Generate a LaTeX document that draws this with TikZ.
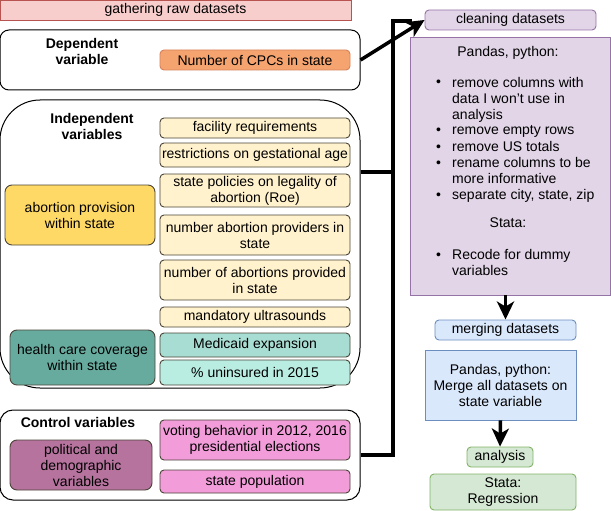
\documentclass[tikz,border=0pt]{standalone}
\usepackage{fontspec}
\setmainfont{Liberation Sans}
\usetikzlibrary{arrows.meta}
\newcommand{\mkbox}[7]{%
  \node[#6, minimum width={#4-#2}, minimum height={#5-#3}] (#1) at ({(#2+#4)/2},{(#3+#5)/2}) {#7};}
\definecolor{gatherfill}{HTML}{F8CECC}\definecolor{gatherdraw}{HTML}{B85450}
\definecolor{cpcfill}{HTML}{F5A46F}\definecolor{cpcdraw}{HTML}{D7825A}
\definecolor{yelfill}{HTML}{FFF2CC}\definecolor{darkdraw}{HTML}{4A4538}
\definecolor{golfill}{HTML}{FFD966}
\definecolor{tealfill}{HTML}{67AB9F}\definecolor{medfill}{HTML}{A8DDD3}\definecolor{unfill}{HTML}{B9EDE2}
\definecolor{polfill}{HTML}{B5739D}\definecolor{pinkfill}{HTML}{F29DDA}
\definecolor{purfill}{HTML}{E1D5E7}\definecolor{purdraw}{HTML}{9673A6}
\definecolor{bluefill}{HTML}{DAE8FC}\definecolor{bluedraw}{HTML}{6C8EBF}
\definecolor{grnfill}{HTML}{D5E8D4}\definecolor{grndraw}{HTML}{82B366}
\begin{document}
\begin{tikzpicture}[x=1pt,y=-1pt,
  font=\fontsize{14}{16}\selectfont,
  base/.style={draw, inner sep=0pt, align=center, line width=0.9pt},
  sharp/.style={base},
  soft/.style={base, rounded corners=4pt},
  group/.style={base, draw=black, fill=white, line width=1pt},
  lbl/.style={inner sep=0pt, align=center, font=\fontsize{14}{16}\selectfont\bfseries},
  yel/.style={soft, fill=yelfill, draw=darkdraw},
  pink/.style={soft, fill=pinkfill, draw=darkdraw},
  txt/.style={inner sep=0pt, anchor=base west, align=left},
  bul/.style={inner sep=0pt, anchor=base west},
  link/.style={line width=3.5pt, line join=miter},
  arrow/.style={line width=3.5pt, -{Stealth[length=18pt,width=17pt,inset=5pt]}}]
\useasboundingbox (0,0) rectangle (611,511);
% left column
\mkbox{gather}{0}{0}{351}{20}{sharp, fill=gatherfill, draw=gatherdraw}{gathering raw datasets}
\mkbox{dep}{0}{30}{360}{90}{group, rounded corners=9pt}{}
\node[lbl] (deplbl) at (82,51) {Dependent\\variable};
\mkbox{cpc}{160}{50}{350}{70}{soft, fill=cpcfill, draw=cpcdraw}{Number of CPCs in state}
\mkbox{indep}{0}{100}{360}{388}{group, rounded corners=40pt}{}
\node[lbl] (indeplbl) at (92,126) {Independent\\variables};
\mkbox{fac}{160}{118}{350}{138}{yel}{facility requirements}
\mkbox{gest}{160}{143}{350}{167}{yel}{restrictions on gestational age}
\mkbox{roe}{160}{174}{350}{207}{yel}{state policies on legality of\\abortion (Roe)}
\mkbox{prov}{160}{215}{350}{255}{yel}{number abortion providers in\\state}
\mkbox{nab}{160}{260}{350}{300}{yel}{number of abortions provided\\in state}
\mkbox{ultra}{160}{307}{350}{327}{yel}{mandatory ultrasounds}
\mkbox{medi}{160}{333}{350}{357}{soft, fill=medfill, draw=darkdraw}{Medicaid expansion}
\mkbox{unins}{160}{360}{350}{385}{soft, fill=unfill, draw=darkdraw}{\% uninsured in 2015}
\mkbox{abprov}{5}{185}{155}{245}{base, rounded corners=7pt, fill=golfill, draw=darkdraw}{abortion provision\\within state}
\mkbox{health}{10}{330}{155}{385}{base, rounded corners=7pt, fill=tealfill, draw=darkdraw}{health care coverage\\within state}
\mkbox{ctrl}{0}{410}{360}{500}{group, rounded corners=13pt}{}
\node[lbl] (ctrllbl) at (78,422) {Control variables};
\mkbox{pol}{10}{440}{152}{490}{base, rounded corners=7pt, fill=polfill, draw=darkdraw}{political and\\demographic\\variables}
\mkbox{vote}{160}{420}{350}{460}{pink}{voting behavior in 2012, 2016\\presidential elections}
\mkbox{pop}{160}{470}{350}{493}{pink}{state population}
% right column
\mkbox{clean}{425}{10}{596}{30}{soft, fill=purfill, draw=purdraw}{cleaning datasets}
\mkbox{cleanbox}{410}{37}{610}{295}{sharp, fill=purfill, draw=purdraw}{}
\node[inner sep=0pt, anchor=base] (pp) at (508,57) {Pandas, python:};
\node[bul] (b1) at (436,87) {\textbullet};
\node[txt] (i1) at (452,119) {remove columns with\\data I won't use in\\analysis};
\node[bul] (b2) at (436,135) {\textbullet};
\node[txt] (i2) at (452,135) {remove empty rows};
\node[bul] (b3) at (436,151) {\textbullet};
\node[txt] (i3) at (452,151) {remove US totals};
\node[bul] (b4) at (436,167) {\textbullet};
\node[txt] (i4) at (452,183) {rename columns to be\\more informative};
\node[bul] (b5) at (436,199) {\textbullet};
\node[txt] (i5) at (452,199) {separate city, state, zip};
\node[inner sep=0pt, anchor=base] (st) at (508,227) {Stata:};
\node[bul] (b6) at (436,259) {\textbullet};
\node[txt] (i6) at (452,275) {Recode for dummy\\variables};
\mkbox{merge}{435}{320}{576}{340}{soft, fill=bluefill, draw=bluedraw}{merging datasets}
\mkbox{pm}{425}{350}{576}{420}{sharp, fill=bluefill, draw=bluedraw}{Pandas, python:\\Merge all datasets on\\state variable}
\mkbox{ana}{467}{447}{533}{467}{soft, fill=grnfill, draw=grndraw}{analysis}
\mkbox{reg}{430}{474}{576}{510}{soft, fill=grnfill, draw=grndraw}{Stata:\\Regression}
% connectors
\path (indep.east) ++(0,-72) coordinate (ie);
\coordinate (jn) at (393,21);
\coordinate (mg) at (412,21);
\draw[link] (ie) -| (jn) -- (mg);
\draw[link] (ctrl.east) -| (jn);
\draw[arrow] (dep.east) -- (clean.west);
\draw[arrow] (cleanbox.south -| merge.north) -- (merge.north);
\draw[arrow] (pm.south) -- (ana.north);
\end{tikzpicture}
\end{document}
